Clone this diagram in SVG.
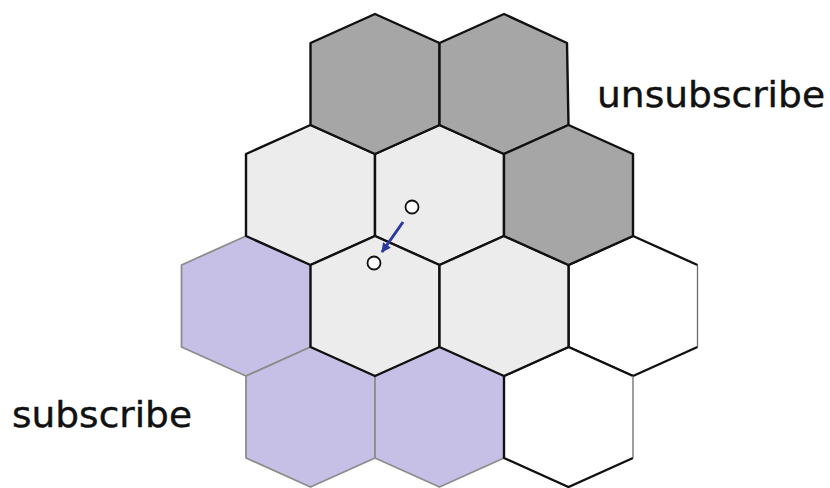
<svg xmlns="http://www.w3.org/2000/svg" width="830" height="488" viewBox="0 0 830 488">
<defs>
<style>
.dark{fill:#a6a6a6;stroke:#111;stroke-width:2.4;stroke-linejoin:round}
.light{fill:#ececec;stroke:#111;stroke-width:2.4;stroke-linejoin:round}
.purple{fill:#c6bfe6;stroke:#8c8c8c;stroke-width:1.8;stroke-linejoin:round}
.wfill{fill:#fff;stroke:none}
.wedge{fill:none;stroke:#111;stroke-width:2.4;stroke-linejoin:round}
.wthin{stroke:#6a6a6a;stroke-width:1.3}
.lbl{font-family:"DejaVu Sans","Open Sans",sans-serif;font-size:35px;fill:#111;stroke:#111;stroke-width:0.4}
.pt{fill:#fff;stroke:#111;stroke-width:1.8}
</style>
<marker id="ah" viewBox="0 0 10 10" refX="9" refY="5" markerWidth="3.6" markerHeight="3.2" orient="auto" markerUnits="strokeWidth">
<path d="M0,0 L10,5 L0,10 z" fill="#2b3a9e"/>
</marker>
</defs>
<rect width="830" height="488" fill="#fff"/>
<g id="r3c1"><polygon class="purple" points="246,236 310.5,265 310.5,347 246,376 181.5,347 181.5,265"/></g>
<g id="r4c1"><polygon class="purple" points="310.5,347 375,376 375,458 310.5,487 246,458 246,376"/></g>
<g id="r4c2"><polygon class="purple" points="439.5,347 504,376 504,458 439.5,487 375,458 375,376"/></g>
<g id="r3c4"><polygon class="wfill" points="633,236 697.5,265 697.5,347 633,376 568.5,347 568.5,265"/><polyline class="wedge" points="697.5,265 633,236 568.5,265 568.5,347 633,376 697.5,347"/><line class="wthin" x1="697.5" y1="265" x2="697.5" y2="347"/></g>
<g id="r4c3"><polygon class="wfill" points="568.5,347 633,376 633,458 568.5,487 504,458 504,376"/><polyline class="wedge" points="633,376 568.5,347 504,376 504,458 568.5,487 633,458"/><line class="wthin" x1="633" y1="376" x2="633" y2="458"/></g>
<g id="r2c1"><polygon class="light" points="310.5,125 375,154 375,236 310.5,265 246,236 246,154"/></g>
<g id="r2c2"><polygon class="light" points="439.5,125 504,154 504,236 439.5,265 375,236 375,154"/></g>
<g id="r3c2"><polygon class="light" points="375,236 439.5,265 439.5,347 375,376 310.5,347 310.5,265"/></g>
<g id="r3c3"><polygon class="light" points="504,236 568.5,265 568.5,347 504,376 439.5,347 439.5,265"/></g>
<g id="r1c1"><polygon class="dark" points="375,14 439.5,43 439.5,125 375,154 310.5,125 310.5,43"/></g>
<g id="r1c2"><polygon class="dark" points="504,14 567,43 568.5,125 504,154 439.5,125 439.5,43"/></g>
<g id="r2c3"><polygon class="dark" points="568.5,125 633,154 633,236 568.5,265 504,236 504,154"/></g>
<g id="connectors">
<line x1="403" y1="222" x2="382" y2="252" stroke="#2b3a9e" stroke-width="3" marker-end="url(#ah)"/>
</g>
<g id="p1"><circle class="pt" cx="412" cy="207" r="6.5"/></g>
<g id="p2"><circle class="pt" cx="374" cy="263" r="6.5"/></g>
<g id="lbl-unsub"><text class="lbl" x="597" y="107" textLength="228" lengthAdjust="spacingAndGlyphs">unsubscribe</text></g>
<g id="lbl-sub"><text class="lbl" x="12" y="427" textLength="180" lengthAdjust="spacingAndGlyphs">subscribe</text></g>
</svg>
